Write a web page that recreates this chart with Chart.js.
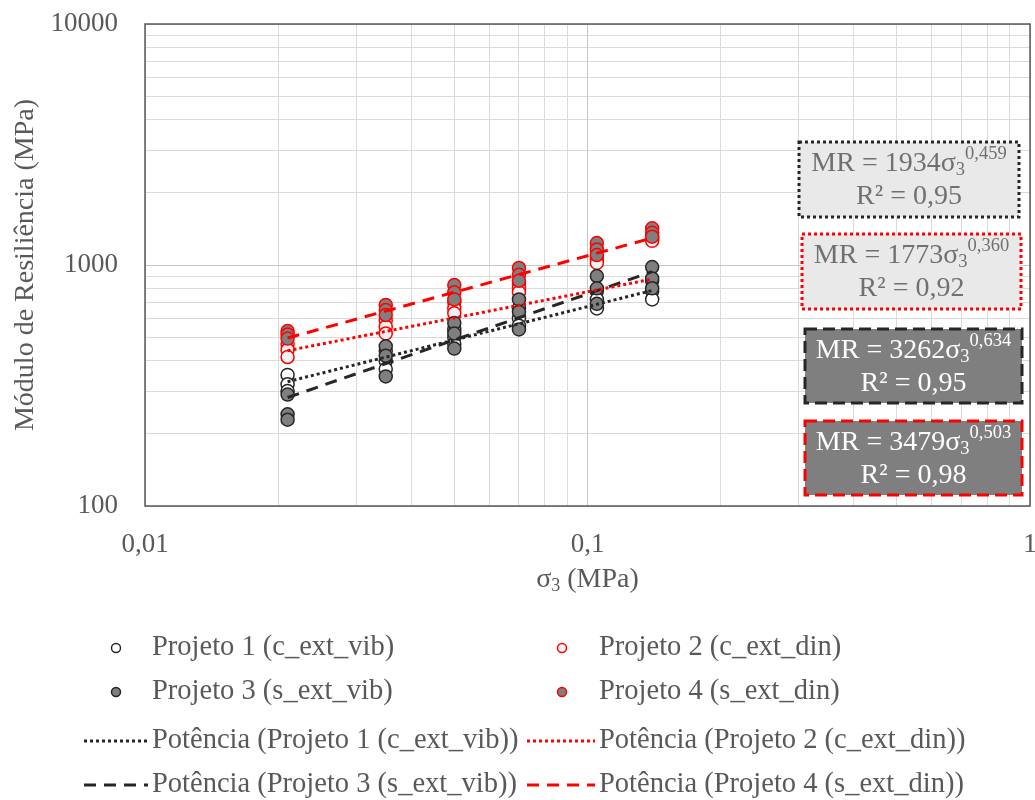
<!DOCTYPE html>
<html>
<head>
<meta charset="utf-8">
<script src="https://cdn.jsdelivr.net/npm/chart.js@4.4.1/dist/chart.umd.min.js"></script>
<style>
    html, body { margin: 0; padding: 0; background: #fff; overflow: hidden; }
    #wrap { width: 1050px; height: 800px; position: relative; }
</style>
</head>
<body>
<div id="wrap"><canvas id="chart"></canvas></div>
<script>
// σ3 levels (MPa), three readings per level in each series
const sigma3 = [0.021, 0.035, 0.05, 0.07, 0.105, 0.14];

const projeto1 = [350, 320, 300, 440, 400, 370, 540, 500, 470, 660, 600, 560, 780, 720, 660, 860, 780, 720];
const projeto2 = [470, 445, 415, 590, 555, 520, 700, 660, 630, 840, 800, 770, 1080, 1050, 1020, 1300, 1280, 1260];
const projeto3 = [290, 240, 228, 460, 420, 345, 575, 520, 450, 720, 640, 540, 900, 800, 690, 980, 880, 800];
const projeto4 = [532, 515, 495, 683, 650, 620, 826, 770, 720, 972, 910, 860, 1233, 1160, 1100, 1420, 1360, 1310];

// power trendlines, ends of the fitted range
const trendX = [0.021, 0.14];
const trend1 = [328, 784];
const trend2 = [441, 874];
const trend3 = [282, 938];
const trend4 = [498, 1294];

const seriesNames = ['Projeto 1 (c_ext_vib)', 'Projeto 2 (c_ext_din)', 'Projeto 3 (s_ext_vib)', 'Projeto 4 (s_ext_din)'];
const trendNames = ['Potência (Projeto 1 (c_ext_vib))', 'Potência (Projeto 2 (c_ext_din))',
                    'Potência (Projeto 3 (s_ext_vib))', 'Potência (Projeto 4 (s_ext_din))'];

// coefficient, exponent, R²
const eqCoef = ['1934', '1773', '3262', '3479'];
const eqExp = ['0,459', '0,360', '0,634', '0,503'];
const eqR2 = ['0,95', '0,92', '0,95', '0,98'];

const xTicks = [0.01, 0.1, 1];
const xTickLabels = ['0,01', '0,1', '1'];
const yTicks = [100, 1000, 10000];
const yTickLabels = ['100', '1000', '10000'];

const SERIF = '"Liberation Serif", "DejaVu Serif", serif';
const TEXT = '#595959';
const RED = '#ff0000';
const DARK = '#262626';
const GREY = '#7f7f7f';

function toPoints(values) {
    return values.map((v, i) => ({ x: sigma3[Math.floor(i / 3)], y: v }));
}

function trendPoints(values) {
    return values.map((v, i) => ({ x: trendX[i], y: v }));
}

// 1..9 x 10^k gridline positions between min and max
function logGrid(min, max) {
    const out = [];
    for (let e = Math.round(Math.log10(min)); e < Math.round(Math.log10(max)); e++) {
        for (let m = 1; m < 10; m++) out.push(m * Math.pow(10, e));
    }
    out.push(max);
    return out;
}

function isDecade(v) {
    const l = Math.log10(v);
    return Math.abs(l - Math.round(l)) < 1e-6;
}

function gridColor(ctx) {
    return ctx.tick && isDecade(ctx.tick.value) ? '#c6c6c6' : '#dadada';
}

const pointDatasets = [
    { label: seriesNames[0], data: toPoints(projeto1), backgroundColor: '#ffffff', borderColor: DARK, order: 4 },
    { label: seriesNames[1], data: toPoints(projeto2), backgroundColor: '#f2f2f2', borderColor: RED, order: 3 },
    { label: seriesNames[2], data: toPoints(projeto3), backgroundColor: GREY, borderColor: DARK, order: 2 },
    { label: seriesNames[3], data: toPoints(projeto4), backgroundColor: GREY, borderColor: RED, order: 1 }
].map(d => ({ ...d, type: 'scatter', pointRadius: 6.5, pointHoverRadius: 6.5, borderWidth: 1.5, showLine: false }));

const trendDatasets = [
    { label: trendNames[0], data: trendPoints(trend1), borderColor: DARK, borderDash: [3, 3] },
    { label: trendNames[1], data: trendPoints(trend2), borderColor: RED, borderDash: [3, 3] },
    { label: trendNames[2], data: trendPoints(trend3), borderColor: DARK, borderDash: [12, 8] },
    { label: trendNames[3], data: trendPoints(trend4), borderColor: RED, borderDash: [12, 8] }
].map(d => ({ ...d, type: 'line', borderWidth: 3, pointRadius: 0, fill: false, order: 0 }));

// text made of pieces: {t, size, dy}
function richWidth(ctx, parts) {
    let w = 0;
    parts.forEach(p => { ctx.font = p.size + 'px ' + SERIF; w += ctx.measureText(p.t).width; });
    return w;
}

function drawRich(ctx, parts, cx, cy, color) {
    let x = cx - richWidth(ctx, parts) / 2;
    ctx.fillStyle = color;
    ctx.textAlign = 'left';
    ctx.textBaseline = 'middle';
    parts.forEach(p => {
        ctx.font = p.size + 'px ' + SERIF;
        ctx.fillText(p.t, x, cy + (p.dy || 0));
        x += ctx.measureText(p.t).width;
    });
}

// equation boxes
const eqBoxes = [
    { x: 799, y: 142, w: 220, h: 75, fill: '#e9e9e9', stroke: DARK, dash: [3, 3], text: '#707070' },
    { x: 802, y: 234, w: 219, h: 75, fill: '#e9e9e9', stroke: RED, dash: [3, 3], text: '#707070' },
    { x: 805, y: 329, w: 217, h: 74, fill: GREY, stroke: DARK, dash: [12, 6], text: '#ffffff' },
    { x: 805, y: 421, w: 217, h: 74, fill: GREY, stroke: RED, dash: [12, 6], text: '#ffffff' }
];

// legend layout: [dataset index, row, col]
const legendRows = [648, 692, 741, 785];
const legendItems = [[0, 0, 0], [1, 0, 1], [2, 1, 0], [3, 1, 1], [4, 2, 0], [5, 2, 1], [6, 3, 0], [7, 3, 1]];
const legendMarkX = [116, 562];
const legendLine = [[84, 148], [527, 595]];
const legendTextX = [152, 599];

const overlay = {
    id: 'overlay',
    beforeDatasetsDraw(chart) {
        const { ctx, chartArea: a } = chart;
        ctx.save();
        ctx.strokeStyle = '#595959';
        ctx.lineWidth = 1.5;
        ctx.strokeRect(a.left, a.top, a.right - a.left, a.bottom - a.top);
        ctx.restore();
    },
    afterDraw(chart) {
        const { ctx, chartArea: a } = chart;
        ctx.save();

        // equation labels
        eqBoxes.forEach((b, i) => {
            ctx.fillStyle = b.fill;
            ctx.fillRect(b.x, b.y, b.w, b.h);
            ctx.setLineDash(b.dash);
            ctx.lineWidth = 3;
            ctx.strokeStyle = b.stroke;
            ctx.strokeRect(b.x, b.y, b.w, b.h);
            ctx.setLineDash([]);
            drawRich(ctx, [
                { t: 'MR = ' + eqCoef[i] + 'σ', size: 28 },
                { t: '3', size: 18.5, dy: 6 },
                { t: eqExp[i], size: 18.5, dy: -10 }
            ], b.x + b.w / 2, b.y + 22, b.text);
            drawRich(ctx, [{ t: 'R² = ' + eqR2[i], size: 28 }], b.x + b.w / 2, b.y + 55, b.text);
        });

        // axis titles
        drawRich(ctx, [
            { t: 'σ', size: 28 },
            { t: '3', size: 18, dy: 6 },
            { t: ' (MPa)', size: 28 }
        ], (a.left + a.right) / 2, 580, TEXT);

        ctx.save();
        ctx.translate(26, (a.top + a.bottom) / 2);
        ctx.rotate(-Math.PI / 2);
        drawRich(ctx, [{ t: 'Módulo de Resiliência (MPa)', size: 28 }], 0, 0, TEXT);
        ctx.restore();

        // legend
        const ds = chart.data.datasets;
        legendItems.forEach(([di, row, col]) => {
            const d = ds[di];
            const y = legendRows[row];
            if (d.type === 'scatter') {
                ctx.beginPath();
                ctx.arc(legendMarkX[col], y, 4.5, 0, Math.PI * 2);
                ctx.fillStyle = d.backgroundColor;
                ctx.fill();
                ctx.lineWidth = 1.5;
                ctx.strokeStyle = d.borderColor;
                ctx.stroke();
            } else {
                ctx.beginPath();
                ctx.setLineDash(d.borderDash);
                ctx.lineWidth = 3;
                ctx.strokeStyle = d.borderColor;
                ctx.moveTo(legendLine[col][0], y);
                ctx.lineTo(legendLine[col][1], y);
                ctx.stroke();
                ctx.setLineDash([]);
            }
            ctx.font = '28.5px ' + SERIF;
            ctx.fillStyle = TEXT;
            ctx.textAlign = 'left';
            ctx.textBaseline = 'middle';
            ctx.fillText(d.label, legendTextX[col], y);
        });

        ctx.restore();
    }
};

const chart = new Chart(document.getElementById('chart').getContext('2d'), {
    type: 'scatter',
    data: { datasets: [...pointDatasets, ...trendDatasets] },
    options: {
        responsive: true,
        maintainAspectRatio: false,
        animation: false,
        layout: { padding: { top: 24, right: 20, bottom: 0, left: 0 } },
        plugins: {
            legend: { display: false },
            tooltip: { enabled: false }
        },
        scales: {
            x: {
                type: 'logarithmic',
                min: 0.01,
                max: 1,
                afterBuildTicks: (scale) => { scale.ticks = logGrid(0.01, 1).map(v => ({ value: v })); },
                afterFit: (scale) => {
                    scale.height = 294;
                    scale.paddingLeft = 0;
                    scale.paddingRight = 0;
                },
                grid: { color: gridColor, lineWidth: 1, drawTicks: false },
                border: { display: false },
                ticks: {
                    autoSkip: false,
                    maxRotation: 0,
                    padding: 23,
                    color: TEXT,
                    font: { family: SERIF, size: 27 },
                    callback: (v) => {
                        const i = xTicks.findIndex(t => Math.abs(t - v) < 1e-9);
                        return i >= 0 ? xTickLabels[i] : '';
                    }
                }
            },
            y: {
                type: 'logarithmic',
                min: 100,
                max: 10000,
                afterBuildTicks: (scale) => { scale.ticks = logGrid(100, 10000).map(v => ({ value: v })); },
                afterFit: (scale) => {
                    scale.width = 145;
                    scale.paddingTop = 0;
                    scale.paddingBottom = 0;
                },
                grid: { color: gridColor, lineWidth: 1, drawTicks: false },
                border: { display: false },
                ticks: {
                    autoSkip: false,
                    padding: 27,
                    color: TEXT,
                    font: { family: SERIF, size: 27 },
                    callback: (v) => {
                        const i = yTicks.findIndex(t => Math.abs(t - v) < 1e-6);
                        return i >= 0 ? yTickLabels[i] : '';
                    }
                }
            }
        }
    },
    plugins: [overlay]
});
</script>
</body>
</html>
